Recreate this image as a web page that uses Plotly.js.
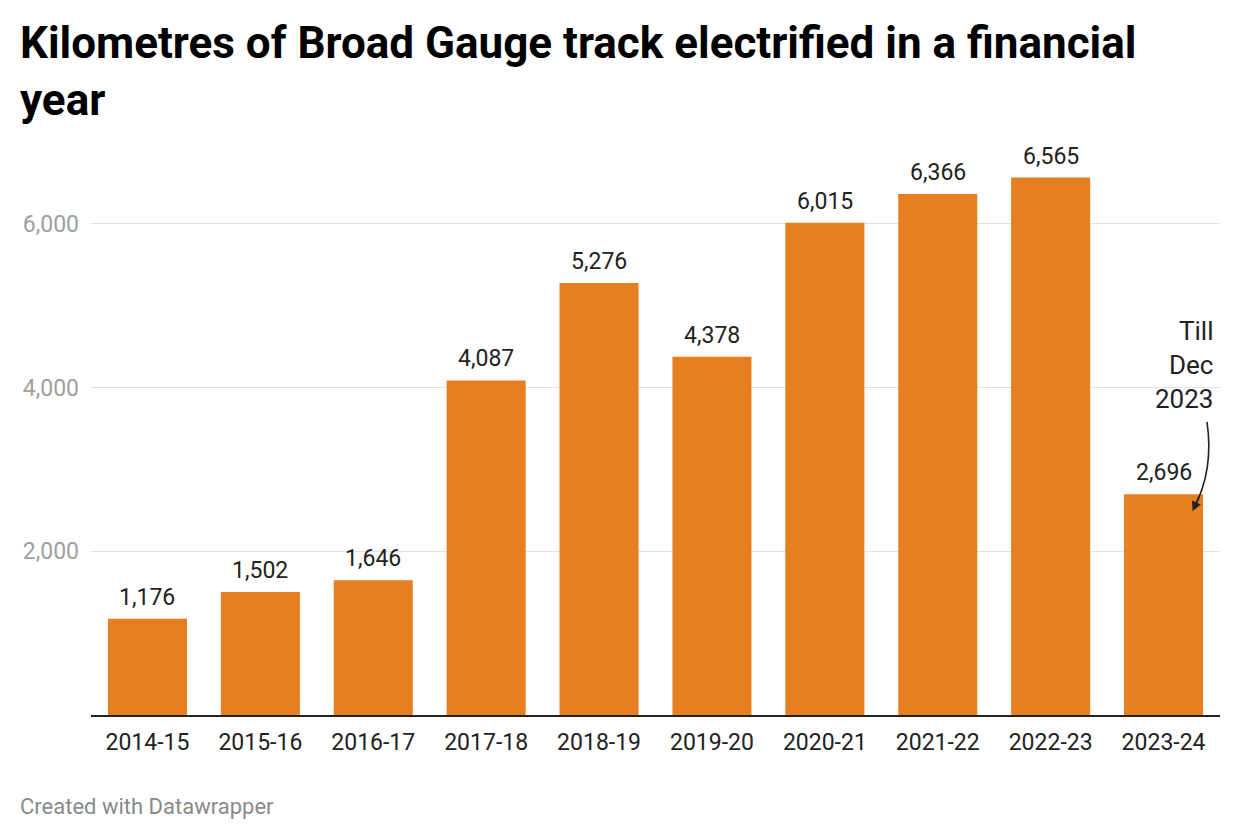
<!DOCTYPE html>
<html>
<head>
<meta charset="utf-8">
<script src="https://cdn.plot.ly/plotly-3.0.1.min.js"></script>
<style>html,body{margin:0;padding:0;background:#fff;}#chart{width:1240px;height:840px;}</style>
</head>
<body>
<div id="chart"></div>
<script>
const years = ["2014-15","2015-16","2016-17","2017-18","2018-19","2019-20","2020-21","2021-22","2022-23","2023-24"];
const km = [1176,1502,1646,4087,5276,4378,6015,6366,6565,2696];
const yTicks = [2000,4000,6000];
const titleText = "Kilometres of Broad Gauge track electrified in a financial<br>year";
const noteText = "Till<br>Dec<br>2023";
const footerText = "Created with Datawrapper";

const fmt = v => v.toLocaleString("en-US");

const trace = {
  type: "bar",
  x: years,
  y: km,
  marker: {color: "#E67E22"},
  hoverinfo: "x+y"
};

const valueLabels = years.map((c, i) => ({
  x: c, y: km[i], xref: "x", yref: "y",
  text: fmt(km[i]), showarrow: false,
  yanchor: "bottom", yshift: 6,
  font: {family: "Roboto, sans-serif", size: 23, color: "#222"}
}));

const last = years.length - 1;

const annotations = valueLabels.concat([
  {
    x: years[last], y: km[last], xref: "x", yref: "y",
    text: noteText, showarrow: false, align: "right",
    xanchor: "right", yanchor: "bottom", xshift: 51, yshift: 78,
    font: {family: "Roboto, sans-serif", size: 26, color: "#222"}
  },
  {
    x: years[last], y: km[last], xref: "x", yref: "y",
    text: "", showarrow: true, arrowhead: 2, arrowsize: 1.2, arrowwidth: 1.6,
    arrowcolor: "#222", xshift: 29, yshift: -17, ax: 7, ay: -16, standoff: 0
  },
  {
    x: (18 - 91) / 1129, y: (715 - 806) / 572.8, xref: "paper", yref: "paper",
    text: footerText, showarrow: false, xanchor: "left", yanchor: "middle",
    font: {family: "Roboto, sans-serif", size: 22, color: "#8a8a8a"}
  }
]);

const layout = {
  width: 1240, height: 840,
  margin: {l: 91, r: 20, t: 142, b: 125},
  paper_bgcolor: "#fff", plot_bgcolor: "#fff",
  showlegend: false,
  bargap: 0.3,
  title: {
    text: titleText,
    font: {family: "Roboto, sans-serif", size: 44, color: "#000", weight: 700},
    xref: "container", yref: "container",
    x: 20/1240, xanchor: "left",
    y: 1 - 58/840, yanchor: "top"
  },
  xaxis: {
    type: "category",
    showgrid: false,
    showline: true, linecolor: "#222", linewidth: 2,
    ticks: "", ticklabelstandoff: 5,
    tickfont: {family: "Roboto, sans-serif", size: 23, color: "#222"},
    fixedrange: true
  },
  yaxis: {
    range: [0, 7000],
    tickvals: yTicks,
    ticktext: yTicks.map(fmt),
    showgrid: true, gridcolor: "#e2e2e2", gridwidth: 1,
    zeroline: false, showline: false,
    ticks: "", ticklabelstandoff: 11,
    tickfont: {family: "Roboto, sans-serif", size: 23, color: "#a0a0a0"},
    fixedrange: true
  },
  shapes: [
    {
      type: "path", xref: "paper", yref: "paper",
      path: "M " + ((1207-91)/1129) + "," + ((715-422)/572.8) +
            " Q " + ((1214-91)/1129) + "," + ((715-470)/572.8) +
            " " + ((1194-91)/1129) + "," + ((715-508)/572.8),
      line: {color: "#222", width: 1.6}
    }
  ],
  annotations: annotations
};

Plotly.newPlot("chart", [trace], layout, {displayModeBar: false, staticPlot: true});
</script>
</body>
</html>
